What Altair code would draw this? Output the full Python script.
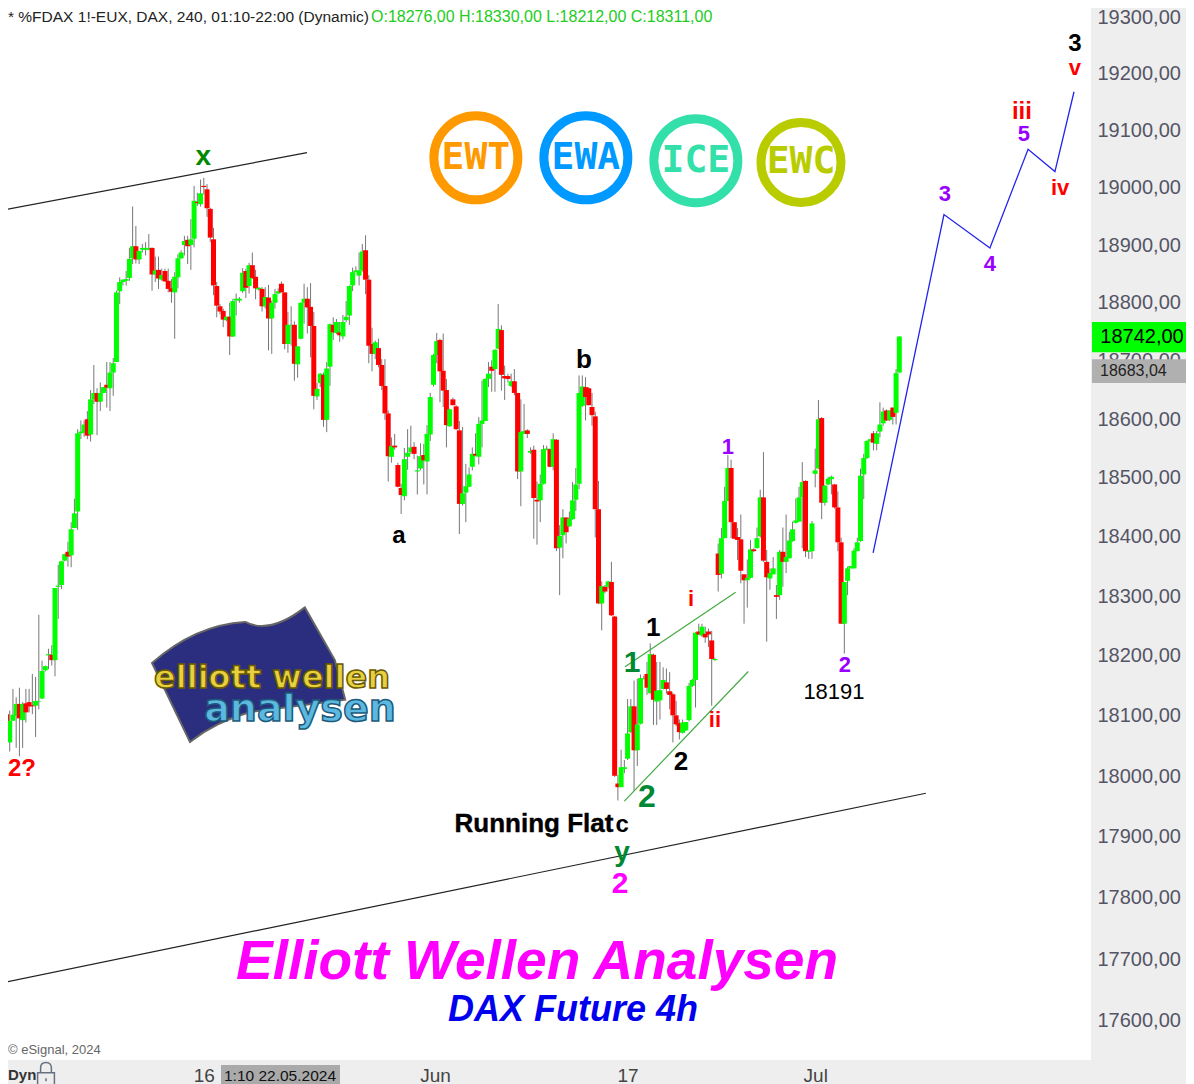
import altair as alt
import pandas as pd

O = [18228,18096,18103,18056,18092,18100,18120,18093,18121,18123,
     18118,18117,18124,18129,18176,18201,18202,18193,18316,18319,
     18360,18375,18369,18415,18443,18576,18577,18600,18574,18634,
     18645,18630,18645,18659,18653,18680,18698,18820,18836,18838,
     18843,18877,18898,18875,18892,18892,18892,18895,18849,18857,
     18840,18855,18838,18825,18818,18844,18877,18900,18909,18900,
     18911,18975,18971,19003,18997,18963,18910,18829,18794,18786,
     18770,18776,18742,18804,18804,18820,18855,18829,18865,18845,
     18823,18824,18794,18809,18773,18800,18816,18833,18818,18729,
     18761,18762,18694,18738,18800,18807,18793,18760,18639,18662,
     18676,18599,18690,18762,18748,18749,18742,18770,18778,18830,
     18853,18847,18856,18891,18840,18729,18712,18722,18693,18657,
     18610,18536,18555,18522,18483,18469,18536,18544,18553,18511,
     18516,18539,18528,18574,18659,18710,18736,18683,18650,18588,
     18634,18622,18581,18456,18475,18485,18519,18541,18536,18592,
     18597,18669,18690,18686,18721,18753,18674,18674,18657,18665,
     18645,18511,18575,18581,18543,18548,18463,18462,18490,18548,
     18549,18519,18565,18382,18403,18433,18418,18430,18463,18490,
     18623,18655,18653,18621,18605,18447,18288,18316,18316,18324,
     18266,17988,17982,18012,18029,18073,18116,18043,18087,18162,
     18170,18138,18202,18124,18126,18145,18156,18141,18136,18101,
     18088,18072,18076,18093,18150,18160,18241,18234,18237,18241,
     18226,18193,18372,18338,18398,18461,18517,18425,18400,18396,
     18337,18327,18331,18379,18381,18401,18467,18358,18330,18337,
     18302,18302,18375,18358,18364,18393,18424,18426,18467,18495,
     18375,18376,18507,18516,18602,18458,18489,18498,18489,18450,
     18391,18254,18326,18347,18347,18376,18393,18506,18534,18563,
     18576,18558,18579,18593,18615,18599,18620,18611,18680]
H = [18228,18122,18109,18109,18145,18131,18147,18123,18145,18145,
     18170,18165,18269,18192,18184,18212,18218,18314,18353,18359,
     18372,18392,18425,18465,18583,18598,18598,18614,18650,18693,
     18653,18663,18655,18698,18698,18705,18821,18844,18840,18855,
     18895,18967,18933,18890,18902,18905,18919,18896,18880,18880,
     18859,18859,18859,18841,18853,18884,18891,18916,18916,18945,
     19003,18991,19014,19017,19006,18965,18930,18836,18798,18790,
     18776,18800,18807,18816,18810,18860,18859,18869,18887,18857,
     18827,18827,18827,18831,18804,18824,18825,18837,18818,18784,
     18794,18768,18725,18801,18833,18827,18834,18784,18662,18679,
     18680,18698,18764,18775,18772,18767,18779,18803,18830,18861,
     18863,18887,18902,18917,18848,18757,18735,18738,18703,18703,
     18615,18569,18575,18526,18490,18551,18583,18589,18561,18538,
     18559,18558,18590,18645,18712,18748,18738,18747,18669,18618,
     18637,18624,18597,18587,18524,18518,18552,18576,18604,18666,
     18670,18698,18701,18720,18798,18761,18692,18678,18678,18686,
     18645,18634,18626,18583,18552,18555,18494,18506,18556,18555,
     18550,18576,18566,18420,18447,18433,18443,18493,18517,18675,
     18675,18672,18655,18645,18613,18495,18325,18319,18326,18358,
     18267,18002,18044,18027,18128,18128,18159,18162,18169,18167,
     18190,18221,18204,18190,18190,18181,18179,18173,18139,18125,
     18094,18094,18090,18155,18162,18240,18254,18254,18249,18246,
     18242,18197,18389,18415,18485,18539,18531,18425,18415,18438,
     18337,18362,18395,18381,18416,18480,18544,18378,18347,18366,
     18319,18378,18416,18438,18409,18426,18465,18485,18527,18496,
     18378,18427,18550,18633,18604,18488,18502,18504,18490,18477,
     18399,18324,18350,18351,18381,18399,18516,18541,18564,18567,
     18580,18580,18629,18620,18617,18615,18620,18686,18742]
L = [18095,18078,18066,18041,18092,18047,18033,18047,18089,18106,
     18103,18065,18111,18128,18174,18178,18184,18166,18262,18312,
     18359,18350,18349,18415,18412,18566,18570,18566,18562,18626,
     18573,18614,18645,18620,18614,18640,18698,18798,18830,18830,
     18838,18867,18868,18867,18887,18882,18891,18821,18836,18824,
     18838,18836,18818,18800,18738,18825,18876,18882,18867,18857,
     18896,18968,18967,18988,18949,18905,18813,18775,18780,18758,
     18768,18710,18741,18778,18800,18817,18808,18816,18841,18806,
     18821,18785,18790,18718,18712,18790,18815,18818,18720,18714,
     18726,18666,18671,18737,18764,18747,18706,18617,18633,18655,
     18587,18578,18657,18736,18746,18733,18737,18767,18762,18820,
     18853,18830,18854,18815,18696,18682,18703,18689,18650,18599,
     18494,18526,18548,18484,18439,18462,18514,18541,18532,18472,
     18513,18489,18472,18563,18656,18696,18629,18621,18552,18587,
     18624,18582,18405,18453,18425,18485,18513,18537,18523,18552,
     18597,18655,18647,18647,18720,18649,18633,18663,18655,18641,
     18498,18452,18575,18568,18541,18397,18387,18425,18489,18547,
     18518,18513,18376,18302,18364,18389,18417,18429,18444,18481,
     18621,18598,18624,18589,18399,18287,18243,18305,18313,18267,
     17999,17960,17982,18005,18027,18072,17976,18017,18086,18161,
     18135,18137,18085,18085,18094,18144,18137,18111,18056,18083,
     18061,18071,18075,18091,18148,18114,18235,18232,18222,18215,
     18117,18192,18308,18330,18398,18461,18398,18397,18361,18322,
     18254,18281,18330,18375,18381,18399,18358,18224,18311,18337,
     18262,18294,18316,18339,18364,18392,18423,18426,18381,18366,
     18363,18363,18484,18515,18430,18453,18488,18472,18448,18376,
     18254,18204,18302,18347,18347,18376,18392,18464,18532,18561,
     18547,18547,18569,18589,18597,18597,18591,18591,18680]
C = [18102,18100,18072,18092,18102,18120,18096,18120,18106,18116,
     18116,18125,18125,18175,18183,18203,18193,18314,18318,18359,
     18371,18367,18413,18440,18576,18579,18591,18572,18634,18645,
     18630,18645,18655,18654,18680,18696,18818,18836,18840,18841,
     18876,18898,18875,18890,18895,18895,18895,18849,18856,18842,
     18848,18837,18824,18819,18845,18877,18887,18907,18898,18910,
     18977,18973,18990,19001,18964,18913,18830,18795,18785,18771,
     18776,18742,18803,18807,18807,18852,18826,18865,18843,18825,
     18826,18794,18810,18773,18800,18815,18820,18818,18729,18762,
     18762,18695,18725,18800,18807,18792,18760,18640,18652,18678,
     18599,18687,18763,18749,18767,18744,18767,18776,18829,18853,
     18856,18856,18889,18840,18726,18712,18732,18693,18657,18610,
     18537,18554,18552,18485,18471,18532,18543,18552,18541,18513,
     18537,18530,18575,18638,18710,18734,18682,18649,18590,18617,
     18624,18583,18456,18474,18486,18506,18541,18538,18592,18598,
     18669,18678,18683,18719,18755,18676,18670,18669,18665,18645,
     18511,18578,18580,18575,18546,18466,18460,18490,18549,18550,
     18519,18566,18381,18402,18433,18408,18431,18462,18489,18645,
     18656,18638,18624,18607,18447,18288,18317,18308,18325,18268,
     18001,17982,18015,18015,18071,18116,18043,18086,18163,18163,
     18147,18203,18127,18142,18143,18160,18145,18135,18101,18086,
     18073,18089,18090,18150,18160,18239,18236,18249,18231,18236,
     18195,18195,18336,18398,18461,18517,18425,18397,18395,18343,
     18327,18331,18379,18376,18398,18467,18360,18332,18339,18347,
     18299,18375,18358,18366,18394,18413,18428,18467,18493,18376,
     18377,18423,18513,18600,18458,18487,18499,18502,18450,18391,
     18254,18324,18347,18351,18377,18391,18504,18534,18563,18566,
     18560,18576,18591,18613,18598,18615,18604,18679,18742]

# Annotation tables (bar index, price)
wave_i = [62.8,180.5,123.3,225,261.2,213.6,221,201.9,195.4,210.5,200,192.3,192.3,191.7,6.8,292.1,306,315.9,316.5,327.7,332.3,332.3]
wave_p = [19054,18702,18402,18553,18185,18295,18093,18247,18188,18023,17965,17920,17874,17823,18012,18988,18867,19133,19093,19000,19210,19252]
wave_t = ["x","b","a","1","2","i","ii","1","1","2","2","c","y","2","2?","3","4","iii","5","iv","v","3"]
wave_c = ["#008800","#000000","#000000","#9900ff","#9900ff","#ff0000","#ff0000","#000000","#008833","#000000","#008833","#000000","#008833","#ff00ff","#ff0000","#9900ff","#9900ff","#ff0000","#9900ff","#ff0000","#ff0000","#000000"]
wave_s = [28,26,24,22,22,22,22,26,30,26,32,24,28,30,24,22,22,24,22,22,22,24]

chan_up_i, chan_up_p = [0,94.9], [18960,19061]
chan_lo_i, chan_lo_p = [0,286.2], [17661,17972]
wedge_up_i, wedge_up_p = [193.2,227.4], [18182,18307]
wedge_lo_i, wedge_lo_p = [193,231.3], [17959,18174]
proj_i = [269.9,291.8,306,317.8,326.1,332]
proj_p = [18373,18953,18895,19067,19028,19168]

price_ticks = [19300,19200,19100,19000,18900,18800,18700,18600,18500,18400,18300,18200,18100,18000,17900,17800,17700,17600]

circ_i = [147.1,181.1,215.1,247.6]
circ_p = [19052,19052,19047,19044]
circ_t = ["EWT","EWA","ICE","EWC"]
circ_c = ["#ff9900","#0099ff","#33e0aa","#b9cc00"]
circ_d = [84,84,84,80]

df = pd.DataFrame({"i": range(len(O)), "o": O, "h": H, "l": L, "c": C})
df["col"] = ["#00ff00" if a <= b else "#ff0000" for a, b in zip(O, C)]
waves = pd.DataFrame({"i": wave_i, "p": wave_p, "t": wave_t, "col": wave_c, "s": wave_s})
circles = pd.DataFrame({"i": circ_i, "p": circ_p, "t": circ_t, "col": circ_c, "d": [d*d for d in circ_d]})

xs = alt.Scale(domain=[2.473, 337.25], nice=False, zero=False, padding=0)
ys = alt.Scale(type="log", domain=[17537, 19316], nice=False, zero=False, padding=0)
FONT = "Liberation Sans"

x_axis = alt.Axis(values=[63,134.5,194,252], title=None, domain=False, ticks=False, grid=False,
                  labelExpr="datum.value==63?'16':datum.value==134.5?'Jun':datum.value==194?'17':'Jul'",
                  labelFont=FONT, labelFontSize=19, labelColor="#444444", labelPadding=6, labelOverlap=False)
y_axis = alt.Axis(orient="right", values=price_ticks, title=None, domain=False, ticks=False, grid=False,
                  labelExpr="replace(format(datum.value,'.2f'),'.',',')", labelOverlap=False,
                  labelFont=FONT, labelFontSize=20, labelColor="#555566", labelPadding=6, labelAlign="left", labelBaseline="middle")
X = alt.X("i:Q", scale=xs, axis=x_axis)
Y = alt.Y("p:Q", scale=ys, axis=y_axis)

wicks = alt.Chart(df).mark_rule(color="#777777", strokeWidth=1, clip=True).encode(
    x=X, y=alt.Y("l:Q", scale=ys, axis=y_axis), y2="h:Q")
bodies = alt.Chart(df).mark_bar(size=5, clip=True).encode(
    x=X, y=alt.Y("o:Q", scale=ys, axis=y_axis), y2="c:Q", color=alt.Color("col:N", scale=None))

def seg(i, p, col, w):
    d = pd.DataFrame({"i": i, "p": p, "k": range(len(i))})
    return alt.Chart(d).mark_line(color=col, strokeWidth=w, clip=True).encode(x=X, y=Y, order="k:Q")

lines = [seg(chan_up_i, chan_up_p, "#222222", 1.2), seg(chan_lo_i, chan_lo_p, "#222222", 1.2),
         seg(wedge_up_i, wedge_up_p, "#44aa44", 1.2), seg(wedge_lo_i, wedge_lo_p, "#44aa44", 1.2),
         seg(proj_i, proj_p, "#2222ee", 1.3)]

wave_text = alt.Chart(waves).mark_text(font=FONT, fontWeight="bold", baseline="middle", align="center").encode(
    x=X, y=Y, text="t:N", color=alt.Color("col:N", scale=None), size=alt.Size("s:Q", scale=None))
lvl = alt.Chart(pd.DataFrame({"i": [257.8], "p": [18140], "t": ["18191"]})).mark_text(
    font=FONT, fontSize=22, color="#000000", baseline="middle").encode(x=X, y=Y, text="t:N")

rings = alt.Chart(circles).mark_point(filled=False, strokeWidth=9, opacity=1).encode(
    x=X, y=Y, color=alt.Color("col:N", scale=None), size=alt.Size("d:Q", scale=None))
ring_text = alt.Chart(circles).mark_text(font="DejaVu Sans Mono", fontWeight="bold", fontSize=38, baseline="middle").encode(
    x=X, y=Y, text="t:N", color=alt.Color("col:N", scale=None))

def label(txt, x, y, **kw):
    return alt.Chart(pd.DataFrame({"t": [txt]})).mark_text(baseline="middle", **kw).encode(
        x=alt.value(x-8), y=alt.value(y-8), text="t:N")

flag_path = ("M-0.946,-0.092 Q-0.615,-0.385 -0.23,-0.408 Q-0.04,-0.31 0.23,-0.52 "
             "L0.46,-0.115 L0.54,0.19 L-0.19,0.285 Q-0.46,0.36 -0.654,0.515 Z")
flag = alt.Chart(pd.DataFrame({"a": [1]})).mark_point(shape=flag_path, filled=True, fill="#2b2d7e", stroke="#666666",
        strokeWidth=2, opacity=1, size=67600).encode(x=alt.value(267), y=alt.value(667))
lock_path = ("M-0.7,-0.1 L0.7,-0.1 L0.7,1 L-0.7,1 Z M-0.45,-0.1 L-0.45,-0.5 Q-0.45,-0.95 0,-0.95 "
             "Q0.45,-0.95 0.45,-0.5 L0.45,-0.1 M0,0.35 L0,0.6")
lock = alt.Chart(pd.DataFrame({"a": [1]})).mark_point(shape=lock_path, filled=False, stroke="#667080",
        strokeWidth=1.5, opacity=1, size=576).encode(x=alt.value(38), y=alt.value(1066))

green_tag = alt.Chart(pd.DataFrame({"a": [18767], "b": [18715]})).mark_rect(color="#00ff00").encode(
    x=alt.value(1084), x2=alt.value(1178), y=alt.Y("a:Q", scale=ys, axis=y_axis), y2="b:Q")
grey_tag = alt.Chart(pd.DataFrame({"a": [18703], "b": [18662]})).mark_rect(color="#b0b0b0").encode(
    x=alt.value(1084), x2=alt.value(1178), y=alt.Y("a:Q", scale=ys, axis=y_axis), y2="b:Q")
cursor = alt.Chart(pd.DataFrame({"a": [1]})).mark_rect(color="#aaaaaa").encode(
    x=alt.value(213), x2=alt.value(332), y=alt.value(1057), y2=alt.value(1076))

layers = [wicks, bodies] + lines + [
    flag,
    label("elliott wellen", 272, 678, font="DejaVu Sans", fontWeight="bold", fontSize=32, color="#e8d040", stroke="#6a5a00", strokeWidth=1.5),
    label("analysen", 300, 710, font="DejaVu Sans", fontWeight="bold", fontSize=38, color="#5cb8e0", stroke="#1c5a7a", strokeWidth=1.5),
    rings, ring_text, wave_text, lvl,
    label("Running Flat", 534, 824, font=FONT, fontWeight="bold", fontSize=26, color="#000000", stroke="#000000", strokeWidth=0.4),
    label("Elliott Wellen Analysen", 537, 962, font=FONT, fontWeight="bold", fontStyle="italic", fontSize=55, color="#ff00ff"),
    label("DAX Future 4h", 573, 1010, font=FONT, fontWeight="bold", fontStyle="italic", fontSize=36, color="#0000ee"),
    label("* %FDAX 1!-EUX, DAX, 240, 01:10-22:00 (Dynamic)", 8, 17, font=FONT, fontSize=15.5, color="#222222", align="left"),
    label("O:18276,00 H:18330,00 L:18212,00 C:18311,00", 371, 17, font=FONT, fontSize=16, color="#22cc22", align="left"),
    label("\u00a9 eSignal, 2024", 8, 1050, font=FONT, fontSize=13, color="#666666", align="left"),
    green_tag, grey_tag, cursor,
    label("18742,00", 1142, 337, font=FONT, fontSize=20, color="#000000"),
    label("18683,04", 1100, 371, font=FONT, fontSize=16, color="#222222", align="left"),
    label("1:10 22.05.2024", 280, 1076, font=FONT, fontSize=15.5, color="#111111"),
    label("Dyn", 8, 1075, font=FONT, fontWeight="bold", fontSize=15, color="#333333", align="left"),
    lock,
]

chart = alt.layer(*layers).properties(
    width=1083, height=1052,
    background="#eeeeee",
    padding={"left": 0, "top": 0, "right": 95, "bottom": 24},
    autosize=alt.AutoSizeParams(type="none"),
).configure_view(fill="#ffffff", stroke=None)

chart.save("out.html", embed_options={"renderer": "svg", "actions": False})
